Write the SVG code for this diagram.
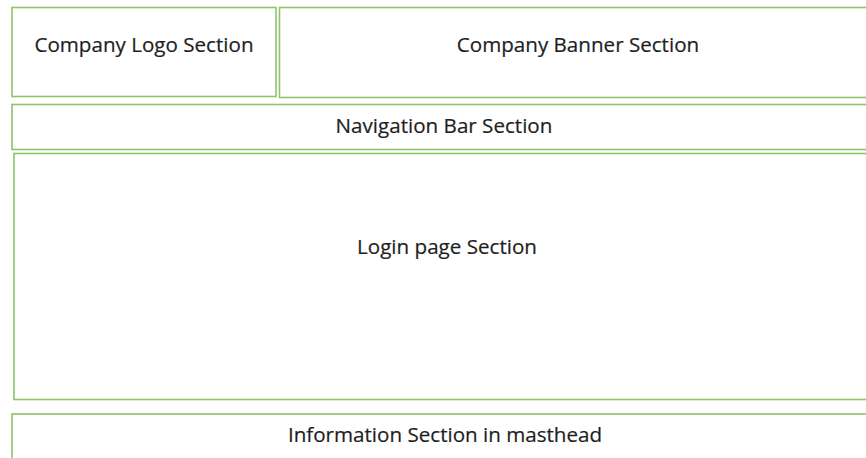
<svg xmlns="http://www.w3.org/2000/svg" width="866" height="458" viewBox="0 0 866 458">
<style>
.box{fill:#fff;stroke:#8cc46c;stroke-width:1.6}
.lbl{font-family:"Open Sans","Liberation Sans",sans-serif;font-size:20.6px;fill:#1e1e1e;text-anchor:middle;stroke:#1e1e1e;stroke-width:0.2}
</style>
<rect width="866" height="458" fill="#fff"/>
<g id="logo"><rect class="box" x="12" y="7.5" width="264" height="89"/><text class="lbl" x="144" y="51.5">Company Logo Section</text></g>
<g id="banner"><rect class="box" x="279.5" y="7.5" width="600" height="90"/><text class="lbl" x="578" y="51.5">Company Banner Section</text></g>
<g id="nav"><rect class="box" x="12" y="104.5" width="870" height="45"/><text class="lbl" x="444" y="132.5">Navigation Bar Section</text></g>
<g id="login"><rect class="box" x="14" y="153.5" width="870" height="246"/><text class="lbl" x="447" y="253.5">Login page Section</text></g>
<g id="info"><rect class="box" x="12" y="414" width="870" height="60"/><text class="lbl" x="445" y="441.5">Information Section in masthead</text></g>
<g id="connectors"></g>
</svg>
